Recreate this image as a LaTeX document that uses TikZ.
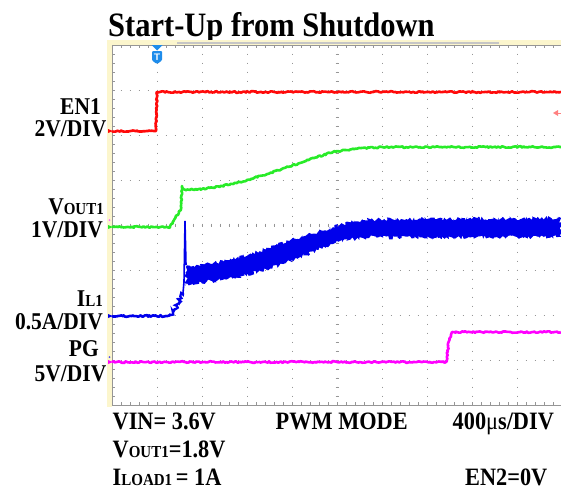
\documentclass[tikz,border=0pt]{standalone}
\usepackage{graphicx}
\usepackage{fontspec}
\setmainfont{Liberation Serif}
\usetikzlibrary{decorations.pathmorphing}
\definecolor{trred}{RGB}{255,10,10}
\definecolor{trgreen}{RGB}{40,235,40}
\definecolor{trblue}{RGB}{0,0,235}
\definecolor{trmag}{RGB}{255,0,255}
\definecolor{gridgray}{RGB}{150,150,150}
\definecolor{frameyel}{RGB}{252,246,205}
\definecolor{trigblue}{RGB}{30,140,235}
\newcommand{\smallsub}[1]{{\fontsize{15}{15}\selectfont #1}}
\newcommand{\tall}[1]{\scalebox{1}[1.12]{#1}}
\begin{document}
\begin{tikzpicture}[x=1pt,y=-1pt,
  lbl/.style={font=\fontsize{21.5}{21.5}\selectfont\bfseries, inner sep=0pt, anchor=base east},
  btm/.style={font=\fontsize{22.3}{22.3}\selectfont\bfseries, inner sep=0pt, anchor=base west},
  noisy/.style={decorate, decoration={random steps, segment length=1.5pt, amplitude=0.8pt}},
  trace/.style={line width=2.6pt, line join=round, noisy},
  griddot/.style={gridgray, line width=0.9pt, dash pattern=on 1pt off 8pt, dash phase=0.5pt},
  tick/.style={gridgray, line width=0.6pt},
]
\useasboundingbox (0,0) rectangle (561,490);
\fill[white] (0,0) rectangle (561,490);

% title
\node[font=\fontsize{30.5}{30.5}\selectfont\bfseries, inner sep=0pt, anchor=base west] (title) at (108,36) {\tall{Start-Up from Shutdown}};

% scope frame
\fill[frameyel] (107,40) rectangle (561,44.5);
\fill[frameyel] (107,40) rectangle (111.5,407);
\draw[gray!45, line width=1.2pt] (177,43) -- (499,43);

% grid
\foreach \k in {1,...,9}{
  \draw[griddot] ({112+45*\k},45) -- ({112+45*\k},405);
}
\foreach \k in {1,...,7}{
  \draw[griddot] (112,{45+45*\k}) -- (561,{45+45*\k});
}
% edges
\draw[tick] (112,45) -- (561,45);
\draw[tick] (112,45) -- (112,405);
\draw[tick] (112,405) -- (561,405);
\foreach \j in {0,...,50}{
  \draw[tick] ({112+9*\j},45) -- ({112+9*\j},48);
  \draw[tick] ({112+9*\j},405) -- ({112+9*\j},402);
  \draw[tick] ({112+9*\j},223.5) -- ({112+9*\j},226.5);
}
\foreach \j in {0,...,40}{
  \draw[tick] (112,{45+9*\j}) -- (115,{45+9*\j});
  \draw[tick] (335.5,{45+9*\j}) -- (338.5,{45+9*\j});
}

% trigger marker
\fill[trigblue] (151.5,45) -- (162.5,45) -- (157,50.5) -- cycle;
\fill[trigblue, rounded corners=1pt] (152,51) -- (162,51) -- (162,60.5) -- (157,64) -- (152,60.5) -- cycle;
\node[white, font=\fontsize{9.5}{9.5}\selectfont\bfseries\sffamily, inner sep=0pt] (tmark) at (157,57) {T};

% right level marker
\fill[red!50] (553,113) -- (558,110) -- (558,116) -- cycle;
\draw[red!50, line width=0.8pt] (556,113) -- (561,113);

% left channel markers
\fill[trred] (108,129) -- (113,131) -- (108,133) -- cycle;
\fill[trgreen] (108,225) -- (113,227) -- (108,229) -- cycle;
\fill[trblue] (108,314) -- (113,316) -- (108,318) -- cycle;
\fill[trmag] (108,360) -- (113,362) -- (108,364) -- cycle;
\fill[trmag!60] (109.5,220) circle (1pt);
\fill[trblue!70] (109.5,357) circle (1pt);

% EN1 red
\draw[trred, trace] (112,131) -- (156,131) -- (157,92) -- (561,92);

% VOUT1 green
\draw[trgreen, trace] (112,227) -- (170,227) -- (181,209) -- (182,186) -- (183.5,190)
  plot[smooth] coordinates {(183.5,190) (210,188) (240,182) (270,173) (300,163) (330,153) (350,149.5) (375,147.5) (420,147) (561,147)};

% IL1 blue
\draw[trblue, trace] (112,316) -- (170,316);
\draw[trblue, line width=2.2pt, decorate, decoration={random steps, segment length=1pt, amplitude=2pt}]
  (170,316) -- (177,306) -- (183,293);
\draw[trblue, line width=1.6pt] (183,293) -- (184,282) -- (185,221) -- (186,265);
\fill[trblue, decorate, decoration={random steps, segment length=1.5pt, amplitude=2pt}]
  plot[smooth] coordinates {(186,267) (233,259) (283,243) (333,227) (363,220) (420,219) (561,218)}
  -- plot[smooth] coordinates {(561,237) (420,237.5) (363,238) (333,244) (283,264) (233,278) (186,284)} -- cycle;

% PG magenta
\draw[trmag, trace] (112,362) -- (446,362) -- (449,341) -- (452,332) -- (561,332);

% left labels
\node[lbl] (en1) at (101,114) {\tall{EN1}};
\node[lbl] (en1s) at (106.5,136) {\tall{2V/DIV}};
\node[lbl] (vout) at (104,214) {\tall{V\smallsub{OUT1}}};
\node[lbl] (vouts) at (103,237) {\tall{1V/DIV}};
\node[lbl] (il) at (103,306) {\tall{I\smallsub{L1}}};
\node[lbl] (ils) at (103,329) {\tall{0.5A/DIV}};
\node[lbl] (pg) at (99,356) {\tall{PG}};
\node[lbl] (pgs) at (106.5,381) {\tall{5V/DIV}};

% bottom labels
\node[btm] (vin) at (112.5,429) {\tall{VIN= 3.6V}};
\node[btm] (pwm) at (275.5,429) {\tall{PWM MODE}};
\node[btm] (tdiv) at (452.5,429) {\tall{400{\mdseries μ}s/DIV}};
\node[btm] (vo) at (112.5,457) {\tall{V\smallsub{OUT1}=1.8V}};
\node[btm] (iload) at (112.5,485) {\tall{I\smallsub{LOAD1}\,= 1A}};
\node[btm] (en2) at (465,485) {\tall{EN2=0V}};
\end{tikzpicture}
\end{document}
